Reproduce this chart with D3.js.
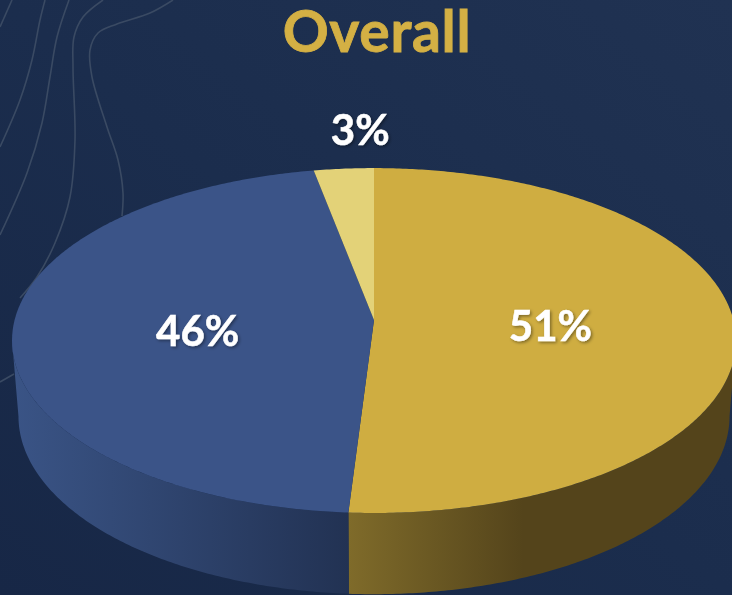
<!DOCTYPE html>
<html>
<head>
<meta charset="utf-8">
<style>
html,body{margin:0;padding:0;background:#1b2d4d;overflow:hidden}
svg{display:block}
</style>
<script src="https://cdn.jsdelivr.net/npm/d3@7/dist/d3.min.js"></script>
</head>
<body>
<script>
// Chart content
const chartTitle = "Overall";
const categories = ["Gold", "Blue", "Pale"];
const values = [51, 46, 3];
const topColors = ["#cfad41", "#3b5488", "#e3d278"];
const wallStops = [
  [["#7f6b2a", 0], ["#54441b", 0.45], ["#54441b", 1]],
  [["#3a5486", 0], ["#223253", 1]],
  [["#54441b", 0], ["#54441b", 1]]
];

// Decorative contour lines behind the pie
const contours = [
  [[12,0],[0,27]],
  [[45,0],[40,20],[32,60],[20,100],[0,147]],
  [[69,0],[57,37],[50,77],[42,123],[27,173],[0,235]],
  [[103,0],[83,17],[74,37],[73,67],[75,140],[70,197],[55,243],[37,277],[20,298]],
  [[173,0],[150,13],[117,24],[98,33],[90,50],[92,77],[107,127],[118,160],[123,193],[122,216]],
  [[0,382],[14,374]]
];

const W = 732, H = 595;
const svg = d3.select("body").append("svg").attr("width", W).attr("height", H);
const defs = svg.append("defs");

// Background wash
const bg = defs.append("linearGradient").attr("id", "bg")
  .attr("x1", 0).attr("y1", 1).attr("x2", 1).attr("y2", 0);
bg.append("stop").attr("offset", 0).attr("stop-color", "#172746");
bg.append("stop").attr("offset", 0.5).attr("stop-color", "#1b2d4d");
bg.append("stop").attr("offset", 1).attr("stop-color", "#203252");
svg.append("rect").attr("width", W).attr("height", H).attr("fill", "url(#bg)");

const contourLine = d3.line().curve(d3.curveCatmullRom.alpha(0.5));
svg.append("g").selectAll("path").data(contours).join("path")
  .attr("d", contourLine)
  .attr("fill", "none")
  .attr("stroke", "#3a4a63")
  .attr("stroke-width", 1.6);

// Perspective disc: unit circle to screen. k is the foreshortening of the far edge.
const k = 0.119;
const disc = (cx, cy, a, b) => theta => {
  const u = Math.sin(theta), v = Math.cos(theta), w = 1 + k * v;
  return [cx + a * u / w, cy - b * v / w];
};
const topFace = disc(374, 320, 359.4, 170);
const baseFace = disc(374, 395, 353, 175.5);

const pie = d3.pie().sort(null).value(d => d);
const slices = pie(values);
const arcSteps = (a0, a1) => {
  const n = Math.max(2, Math.ceil((a1 - a0) / 0.01));
  return d3.range(n + 1).map(i => a0 + (a1 - a0) * i / n);
};
const path = d3.line();

// Wall of the disc, only between the two silhouette tangents
const tanR = Math.PI / 2 + Math.asin(k);
const tanL = 3 * Math.PI / 2 - Math.asin(k);
const walls = svg.append("g");
slices.forEach((s, i) => {
  const a0 = Math.max(s.startAngle, tanR), a1 = Math.min(s.endAngle, tanL);
  if (a1 <= a0) return;
  const steps = arcSteps(a0, a1);
  const pts = steps.map(topFace).concat(steps.slice().reverse().map(baseFace));
  const xs = d3.extent(pts, p => p[0]);
  const grad = defs.append("linearGradient").attr("id", "wall" + i)
    .attr("gradientUnits", "userSpaceOnUse")
    .attr("x1", xs[0]).attr("x2", xs[1]).attr("y1", 0).attr("y2", 0);
  grad.selectAll("stop").data(wallStops[i]).join("stop")
    .attr("offset", d => d[1]).attr("stop-color", d => d[0]);
  walls.append("path").attr("d", path(pts) + "Z").attr("fill", `url(#wall${i})`);
});

// Top face slices
svg.append("g").selectAll("path").data(slices).join("path")
  .attr("d", s => path([[374, 320]].concat(arcSteps(s.startAngle, s.endAngle).map(topFace))) + "Z")
  .attr("fill", (s, i) => topColors[i]);

// Title
svg.append("text")
  .attr("x", 377).attr("y", 52)
  .attr("text-anchor", "middle")
  .attr("font-family", "Lato, 'Open Sans', sans-serif")
  .attr("font-weight", 700)
  .attr("font-size", 57)
  .attr("letter-spacing", 0.7)
  .attr("fill", "#d4b044")
  .attr("stroke", "#d4b044")
  .attr("stroke-width", 0.8)
  .text(chartTitle);

// Value labels with a soft drop shadow
const shadow = defs.append("filter").attr("id", "labelShadow")
  .attr("x", "-20%").attr("y", "-20%").attr("width", "140%").attr("height", "140%");
shadow.append("feDropShadow").attr("dx", 1.5).attr("dy", 1.5)
  .attr("stdDeviation", 1.5).attr("flood-color", "#000").attr("flood-opacity", 0.4);

const labelPlace = [
  {r: 0.49, dx: 0, dy: 4},
  {r: 0.49, dx: 0, dy: 6},
  {r: 1.25, dx: 23, dy: -5}
];
svg.append("g").selectAll("text").data(slices).join("text")
  .attr("transform", (s, i) => {
    const mid = (s.startAngle + s.endAngle) / 2, p = labelPlace[i];
    const u = Math.sin(mid) * p.r, v = Math.cos(mid) * p.r, w = 1 + k * v;
    return `translate(${374 + 359.4 * u / w + p.dx},${320 - 170 * v / w + p.dy})`;
  })
  .attr("dy", "0.35em")
  .attr("text-anchor", "middle")
  .attr("font-family", "Lato, 'Open Sans', sans-serif")
  .attr("font-weight", 700)
  .attr("font-size", 42)
  .attr("fill", "#fff")
  .attr("stroke", "#fff")
  .attr("stroke-width", 0.5)
  .attr("filter", "url(#labelShadow)")
  .text(s => s.value + "%");
</script>
</body>
</html>
